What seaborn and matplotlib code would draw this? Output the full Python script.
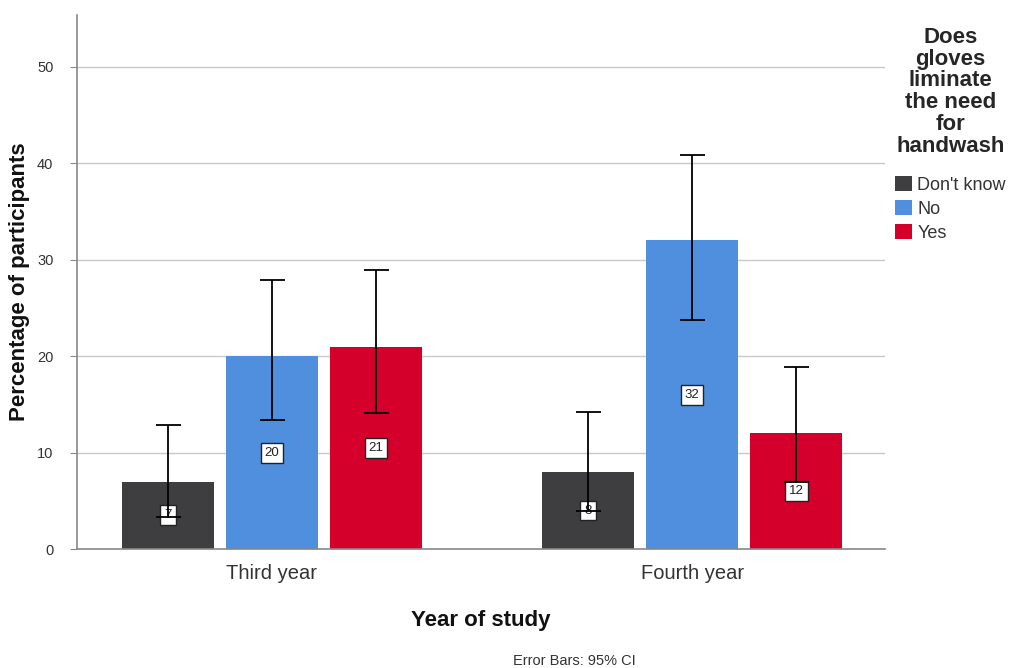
import matplotlib
matplotlib.use("Agg")
import matplotlib.pyplot as plt
import seaborn as sns
import pandas as pd
from matplotlib.patches import Patch

years = ["Third year", "Fourth year"]
responses = ["Don't know", "No", "Yes"]
dont_know = [7, 8]
no = [20, 32]
yes = [21, 12]
ci_low_dont_know = [3.3, 3.9]
ci_high_dont_know = [12.9, 14.2]
ci_low_no = [13.4, 23.8]
ci_high_no = [27.9, 40.9]
ci_low_yes = [14.1, 7.0]
ci_high_yes = [28.9, 18.9]
colors = ["#3e3e40", "#4f8fde", "#d4002b"]

rows = []
for i, y in enumerate(years):
    for r, vals, lo, hi in zip(responses, [dont_know, no, yes],
                               [ci_low_dont_know, ci_low_no, ci_low_yes],
                               [ci_high_dont_know, ci_high_no, ci_high_yes]):
        rows.append({"year": y, "resp": r, "pct": vals[i], "lo": lo[i], "hi": hi[i]})
df = pd.DataFrame(rows)

sns.set_style("white")
plt.rcParams["font.family"] = ["Liberation Sans", "DejaVu Sans"]

fig = plt.figure(figsize=(10.13, 6.68), dpi=100)
ax = fig.add_axes([0.076, 0.178, 0.798, 0.8])

sns.barplot(data=df, x="year", y="pct", hue="resp", order=years, hue_order=responses,
            palette=colors, errorbar=None, width=0.743, gap=0.11, saturation=1,
            linewidth=0, ax=ax, legend=False, zorder=2)

ax.set_ylim(0, 55.4)
ax.set_xlim(-0.464, 1.46)
ax.set_yticks([0, 10, 20, 30, 40, 50])
ax.yaxis.grid(True, color="#c8c8c8", linewidth=1, zorder=0)
ax.set_axisbelow(True)

for container, resp in zip(ax.containers, responses):
    sub = df[df["resp"] == resp].set_index("year").loc[years]
    for bar, (_, row) in zip(container, sub.iterrows()):
        xc = bar.get_x() + bar.get_width() / 2
        h = bar.get_height()
        ax.text(xc, h / 2, f"{int(row['pct'])}", ha="center", va="center", fontsize=9.5,
                color="#222222", zorder=4,
                bbox=dict(boxstyle="square,pad=0.3", facecolor="white", edgecolor="#222222", linewidth=1))
        ax.errorbar(xc, h, yerr=[[h - row["lo"]], [row["hi"] - h]], fmt="none",
                    ecolor="black", elinewidth=1.3, capsize=9, capthick=1.3, zorder=5)

for s in ["top", "right"]:
    ax.spines[s].set_visible(False)
for s in ["left", "bottom"]:
    ax.spines[s].set_color("#888888")
    ax.spines[s].set_linewidth(1.2)

ax.tick_params(axis="y", left=True, length=5, color="#888888", labelsize=10.5, labelcolor="#333333", pad=12)
ax.tick_params(axis="x", bottom=False, labelsize=14.5, labelcolor="#333333", pad=7)

ax.set_xlabel("Year of study", fontsize=16, fontweight="bold", labelpad=20, color="#111111")
ax.set_ylabel("Percentage of participants", fontsize=16, fontweight="bold", color="#111111")
ax.yaxis.set_label_coords(-0.058, 0.5)

handles = [Patch(facecolor=c, edgecolor="none") for c in colors]
leg = fig.legend(handles, responses, title="Does\ngloves\nliminate\nthe need\nfor\nhandwash",
                 loc="upper left", bbox_to_anchor=(0.884, 0.96), frameon=False,
                 fontsize=13, handlelength=0.9, handleheight=0.9, handletextpad=0.3,
                 labelspacing=0.35, borderaxespad=0, borderpad=0)
plt.setp(leg.get_title(), fontweight="bold", fontsize=16, multialignment="center", linespacing=1.05)
leg._legend_box.sep = 14
for t in leg.get_texts():
    t.set_color("#333333")

fig.text(0.567, 0.005, "Error Bars: 95% CI", fontsize=10.5, color="#333333", ha="center")

fig.savefig("out.png", dpi=100, facecolor="white")
